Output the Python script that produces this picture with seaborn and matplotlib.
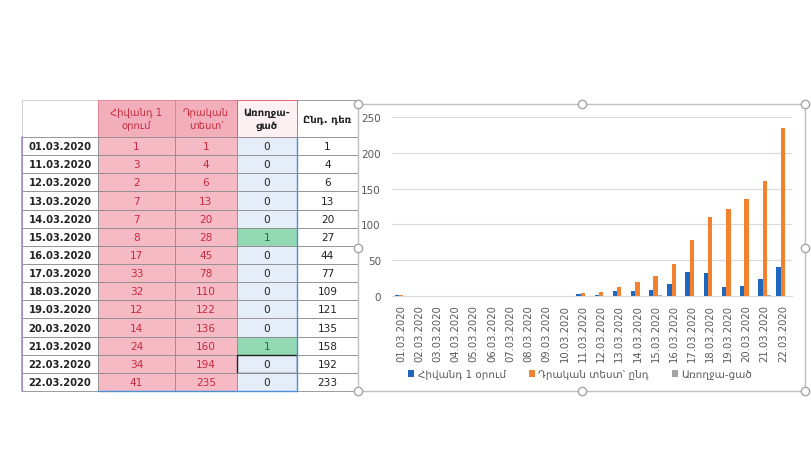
#importing module and library
import pandas as pd
import seaborn as sns
import matplotlib.pyplot as plt
from matplotlib.lines import Line2D
from matplotlib.patches import Rectangle

# --- table data (left part) ---
table_dates = ['01.03.2020', '11.03.2020', '12.03.2020', '13.03.2020', '14.03.2020',
               '15.03.2020', '16.03.2020', '17.03.2020', '18.03.2020', '19.03.2020',
               '20.03.2020', '21.03.2020', '22.03.2020', '22.03.2020']
table_sick = [1, 3, 2, 7, 7, 8, 17, 33, 32, 12, 14, 24, 34, 41]
table_positive = [1, 4, 6, 13, 20, 28, 45, 78, 110, 122, 136, 160, 194, 235]
table_recovered = [0, 0, 0, 0, 0, 1, 0, 0, 0, 0, 0, 1, 0, 0]
table_active = [1, 4, 6, 13, 20, 27, 44, 77, 109, 121, 135, 158, 192, 233]
table_headers = ['', 'Հիվանդ 1\nօրում', 'Դրական\nտեստ՝', 'Առողջա-\nցած', 'Ընդ. դեռ']

# --- chart data (right part) ---
chart_dates = ['01.03.2020', '02.03.2020', '03.03.2020', '04.03.2020', '05.03.2020',
               '06.03.2020', '07.03.2020', '08.03.2020', '09.03.2020', '10.03.2020',
               '11.03.2020', '12.03.2020', '13.03.2020', '14.03.2020', '15.03.2020',
               '16.03.2020', '17.03.2020', '18.03.2020', '19.03.2020', '20.03.2020',
               '21.03.2020', '22.03.2020']
chart_sick = [1, 0, 0, 0, 0, 0, 0, 0, 0, 0, 3, 2, 7, 7, 8, 17, 33, 32, 12, 14, 24, 41]
chart_positive = [1, 0, 0, 0, 0, 0, 0, 0, 0, 0, 4, 6, 13, 20, 28, 45, 78, 110, 122, 136, 160, 235]
chart_recovered = [0, 0, 0, 0, 0, 0, 0, 0, 0, 0, 0, 0, 0, 0, 1, 0, 0, 0, 0, 0, 1, 0]
series_names = ['Հիվանդ 1 օրում', 'Դրական տեստ՝ ընդ', 'Առողջա-ցած']

sns.set_style('white')
plt.rcParams['font.family'] = ['DejaVu Sans']

W, H = 811, 456
fig = plt.figure(figsize=(W / 100, H / 100), dpi=100)

#colors
pink = '#f6bac5'
pink_head = '#f3aebb'
red_txt = '#c62a3f'
blue_cell = '#e4edf8'
green_cell = '#93d9b3'
green_txt = '#16782c'
grid_col = '#8c8c8c'

# ---------------- table ----------------
tx0, tx1, ty0, ty1 = 22, 358, 101, 392
ax_t = fig.add_axes([tx0 / W, 1 - ty1 / H, (tx1 - tx0) / W, (ty1 - ty0) / H])
ax_t.axis('off')

rows = [table_headers]
for d, a, b, c, e in zip(table_dates, table_sick, table_positive, table_recovered, table_active):
    rows.append([d, str(a), str(b), str(c), str(e)])

col_px = [76, 77, 62, 60, 61]
tbl = ax_t.table(cellText=rows, cellLoc='center', colWidths=[c / sum(col_px) for c in col_px],
                 bbox=[0, 0, 1, 1])
tbl.auto_set_font_size(False)

for (r, c), cell in tbl.get_celld().items():
    cell.set_height(37 if r == 0 else 18.1)
    cell.set_linewidth(0.6)
    cell.set_edgecolor(grid_col)
    txt = cell.get_text()
    txt.set_fontsize(7.6)
    txt.set_color('#222222')
    if r == 0:
        txt.set_fontsize(7.2)
        txt.set_linespacing(1.4)
        if c in (1, 2):
            cell.set_facecolor(pink_head)
            cell.set_edgecolor('#e07b8c')
            txt.set_color(red_txt)
        elif c == 3:
            cell.set_facecolor('#fdf0f2')
            cell.set_edgecolor('#e0505f')
            txt.set_fontweight('bold')
        elif c == 4:
            txt.set_fontweight('bold')
        else:
            cell.set_edgecolor('#c8c8c8')
    else:
        if c == 0:
            txt.set_fontweight('bold')
            txt.set_fontsize(7.2)
            cell._loc = 'right'
            cell.PAD = 0.04
        elif c in (1, 2):
            cell.set_facecolor(pink)
            txt.set_color(red_txt)
        elif c == 3:
            if table_recovered[r - 1] > 0:
                cell.set_facecolor(green_cell)
                txt.set_color(green_txt)
            else:
                cell.set_facecolor(blue_cell)
            if r >= len(rows) - 2:
                cell._loc = 'right'
                cell.PAD = 0.05
                if r == len(rows) - 2:
                    cell.set_edgecolor('#222222')
                    cell.set_linewidth(1.0)

# coloured border lines of the excel selection
header_frac = 37 / (37 + 14 * 18.1)
x_c3 = sum(col_px[:4]) / sum(col_px)
x_c1 = col_px[0] / sum(col_px)
ax_t.plot([0, 0], [0, 1 - header_frac], color='#a78bd8', lw=1.2, transform=ax_t.transAxes, clip_on=False)
ax_t.plot([x_c3, x_c3], [0, 1 - header_frac], color='#4a8fd8', lw=1.0, transform=ax_t.transAxes, clip_on=False)
ax_t.plot([x_c1, x_c3], [0, 0], color='#4a8fd8', lw=1.0, transform=ax_t.transAxes, clip_on=False)

# ---------------- chart ----------------
bx0, bx1, by0, by1 = 358, 805, 105, 392
fig.add_artist(Rectangle((bx0 / W, 1 - by1 / H), (bx1 - bx0) / W, (by1 - by0) / H,
                         transform=fig.transFigure, fill=False, edgecolor='#bfbfbf', lw=1.0))
hx = [bx0, (bx0 + bx1) / 2, bx1]
hy = [by0, (by0 + by1) / 2, by1]
for xi in range(3):
    for yi in range(3):
        if xi == 1 and yi == 1:
            continue
        fig.add_artist(Line2D([hx[xi] / W], [1 - hy[yi] / H], marker='o', ms=6,
                              mfc='white', mec='#a6a6a6', mew=1.0, transform=fig.transFigure))

ax = fig.add_axes([392 / W, 1 - 297 / H, 400 / W, 179 / H])
df = pd.DataFrame({
    'date': chart_dates * 3,
    'value': chart_sick + chart_positive + chart_recovered,
    'series': [series_names[0]] * len(chart_dates) + [series_names[1]] * len(chart_dates)
              + [series_names[2]] * len(chart_dates),
})
sns.barplot(data=df, x='date', y='value', hue='series', order=chart_dates, hue_order=series_names,
            palette=['#1f66bd', '#f4812f', '#a5a5a5'], width=0.72, saturation=1, ax=ax,
            legend=True, linewidth=0)

ax.set_ylim(0, 250)
ax.set_xlim(-0.5, len(chart_dates) - 0.5)
ax.set_yticks(range(0, 251, 50))
ax.yaxis.grid(True, color='#d9d9d9', lw=0.8)
ax.set_axisbelow(True)
for s in ['top', 'right', 'left']:
    ax.spines[s].set_visible(False)
ax.spines['bottom'].set_color('#d9d9d9')
ax.set_xlabel('')
ax.set_ylabel('')
ax.tick_params(axis='y', length=0, labelsize=7.5, labelcolor='#595959', pad=8)
ax.tick_params(axis='x', length=0, labelsize=7.2, labelcolor='#595959', rotation=90, pad=6)
ax.set_xticks([i - 0.5 for i in range(len(chart_dates) + 1)], minor=True)
ax.tick_params(axis='x', which='minor', length=4, color='#d9d9d9')

ax.legend(loc='center', bbox_to_anchor=(0.47, -0.436), ncol=3, frameon=False, fontsize=7.5,
          labelcolor='#595959', handlelength=0.6, handleheight=0.6, handletextpad=0.3,
          columnspacing=2.2)

plt.savefig('out.png', dpi=100)
